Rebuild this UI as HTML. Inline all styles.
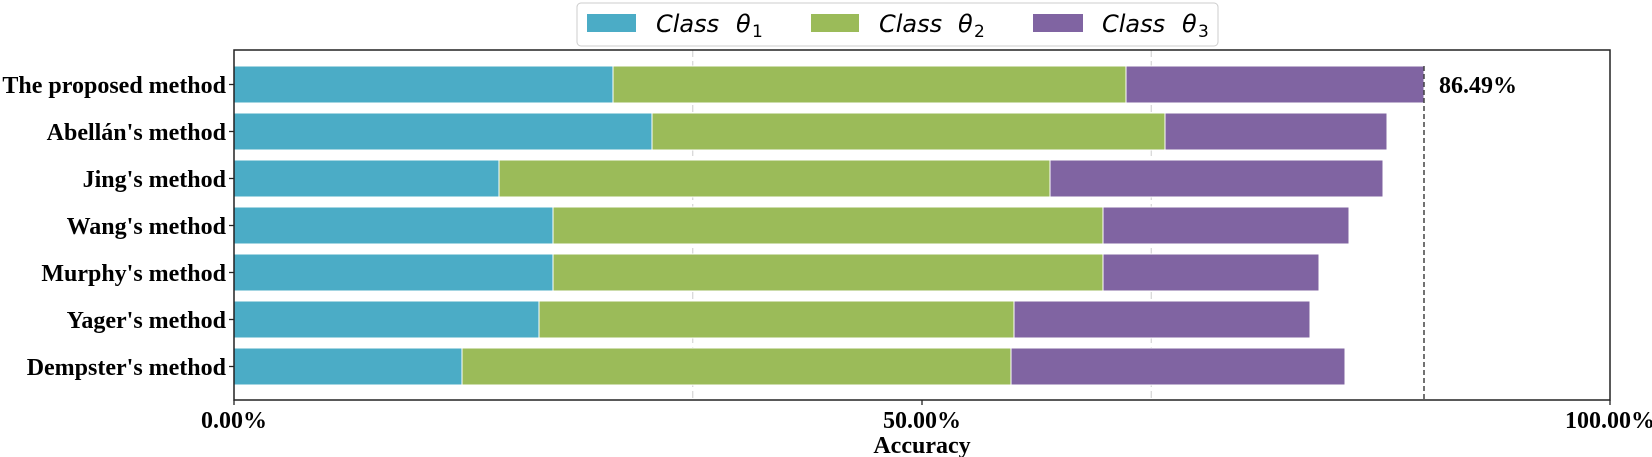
<!DOCTYPE html>
<html><head><meta charset="utf-8"><style>
html,body{margin:0;padding:0;background:#fff;}
svg{display:block;}
.y{font-family:"Liberation Serif",serif;font-weight:bold;font-size:24px;fill:#000;}
.l{font-family:"DejaVu Sans",sans-serif;font-style:italic;font-size:24px;fill:#000;}
.s{font-family:"DejaVu Sans",sans-serif;font-size:17px;fill:#000;}
</style></head><body>
<svg width="1652" height="457" viewBox="0 0 1652 457" xmlns="http://www.w3.org/2000/svg">
<rect width="1652" height="457" fill="#fff"/>
<line x1="692.7" y1="50" x2="692.7" y2="400" stroke="#d8d8d8" stroke-width="1.3" stroke-dasharray="7,4"/>
<line x1="1151.3" y1="50" x2="1151.3" y2="400" stroke="#d8d8d8" stroke-width="1.3" stroke-dasharray="7,4"/>
<g stroke="#fff" stroke-width="1">
<rect x="234" y="66" width="379" height="37" fill="#4bacc6"/>
<rect x="613" y="66" width="513" height="37" fill="#9bbb59"/>
<rect x="1126" y="66" width="298" height="37" fill="#8064a2"/>
<rect x="234" y="113" width="418" height="37" fill="#4bacc6"/>
<rect x="652" y="113" width="513" height="37" fill="#9bbb59"/>
<rect x="1165" y="113" width="222" height="37" fill="#8064a2"/>
<rect x="234" y="160" width="265" height="37" fill="#4bacc6"/>
<rect x="499" y="160" width="551" height="37" fill="#9bbb59"/>
<rect x="1050" y="160" width="333" height="37" fill="#8064a2"/>
<rect x="234" y="207" width="319" height="37" fill="#4bacc6"/>
<rect x="553" y="207" width="550" height="37" fill="#9bbb59"/>
<rect x="1103" y="207" width="246" height="37" fill="#8064a2"/>
<rect x="234" y="254" width="319" height="37" fill="#4bacc6"/>
<rect x="553" y="254" width="550" height="37" fill="#9bbb59"/>
<rect x="1103" y="254" width="216" height="37" fill="#8064a2"/>
<rect x="234" y="301" width="305" height="37" fill="#4bacc6"/>
<rect x="539" y="301" width="475" height="37" fill="#9bbb59"/>
<rect x="1014" y="301" width="296" height="37" fill="#8064a2"/>
<rect x="234" y="348" width="228" height="37" fill="#4bacc6"/>
<rect x="462" y="348" width="549" height="37" fill="#9bbb59"/>
<rect x="1011" y="348" width="334" height="37" fill="#8064a2"/>
</g>
<line x1="1424" y1="66" x2="1424" y2="400" stroke="#444" stroke-width="1.5" stroke-dasharray="5,3"/>
<text x="1439" y="93" class="y">86.49%</text>
<rect x="234" y="50" width="1376" height="350" fill="none" stroke="#222" stroke-width="1.5"/>
<g stroke="#222" stroke-width="1.3">
<line x1="229" y1="84.5" x2="234" y2="84.5"/><line x1="229" y1="131.5" x2="234" y2="131.5"/>
<line x1="229" y1="178.5" x2="234" y2="178.5"/><line x1="229" y1="225.5" x2="234" y2="225.5"/>
<line x1="229" y1="272.5" x2="234" y2="272.5"/><line x1="229" y1="319.5" x2="234" y2="319.5"/>
<line x1="229" y1="366.5" x2="234" y2="366.5"/>
<line x1="234" y1="400" x2="234" y2="405"/><line x1="922" y1="400" x2="922" y2="405"/><line x1="1610" y1="400" x2="1610" y2="405"/>
</g>
<g class="y" text-anchor="end">
<text x="226" y="93">The proposed method</text>
<text x="226" y="140">Abellán's method</text>
<text x="226" y="187">Jing's method</text>
<text x="226" y="234">Wang's method</text>
<text x="226" y="281">Murphy's method</text>
<text x="226" y="328">Yager's method</text>
<text x="226" y="375">Dempster's method</text>
</g>
<g class="y" text-anchor="middle">
<text x="234" y="428">0.00%</text>
<text x="922" y="428">50.00%</text>
<text x="1610" y="428">100.00%</text>
<text x="922" y="453">Accuracy</text>
</g>
<rect x="577" y="3" width="641" height="43" rx="4" fill="#fff" stroke="#ccc" stroke-width="1"/>
<rect x="587" y="14" width="49" height="18" fill="#4bacc6"/>
<text x="656" y="32" class="l">Class</text><text x="736" y="32" class="l">θ</text><text x="752" y="37" class="s">1</text>
<rect x="811" y="14" width="48" height="18" fill="#9bbb59"/>
<text x="879" y="32" class="l">Class</text><text x="958" y="32" class="l">θ</text><text x="974" y="37" class="s">2</text>
<rect x="1033" y="14" width="50" height="18" fill="#8064a2"/>
<text x="1102" y="32" class="l">Class</text><text x="1182" y="32" class="l">θ</text><text x="1198" y="37" class="s">3</text>
</svg>
</body></html>
